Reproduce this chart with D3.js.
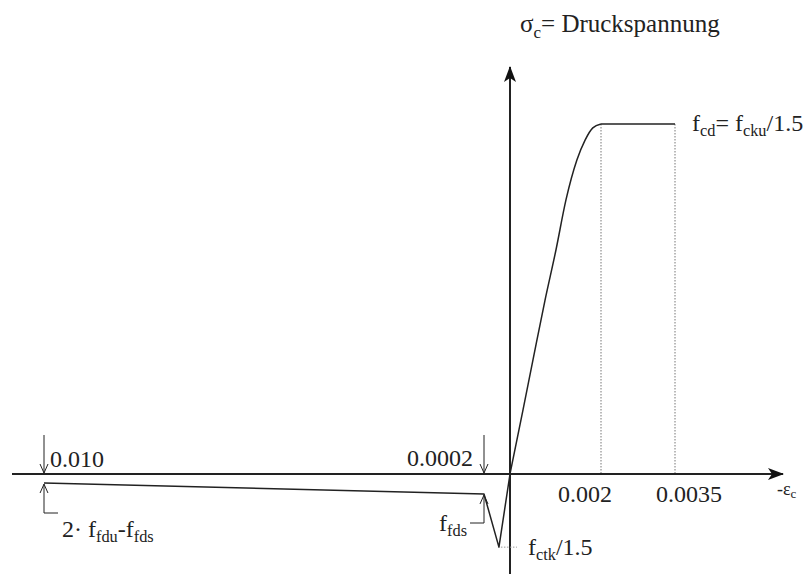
<!DOCTYPE html>
<html>
<head>
<meta charset="utf-8">
<script src="https://cdn.jsdelivr.net/npm/d3@7"></script>
<style>
  html, body { margin: 0; padding: 0; background: #fff; }
  svg text { font-family: "Liberation Serif", "Times New Roman", serif; fill: #222; }
</style>
</head>
<body>
<div id="chart"></div>
<script>
// strain (-eps_c) and stress (sigma_c / f_cd)
const strainTension = [-0.010, -0.0002, -0.000085, 0];
const stressTension = [-0.026, -0.057, -0.209, 0];
const strainCurve = [0, 0.000286, 0.000505, 0.00077, 0.00101, 0.00123, 0.00147, 0.00165, 0.00182, 0.002];
const stressCurve = [0, 0.183, 0.326, 0.497, 0.64, 0.783, 0.897, 0.954, 0.989, 1];
const strainPlateau = [0.002, 0.0035];
const stressPlateau = [1, 1];

const tickStrains = [0.002, 0.0035];
const tickLabels = ['0.002', '0.0035'];
const markStrains = [-0.010, -0.0002];
const markLabels = ['0.010', '0.0002'];

const width = 808, height = 574;

const svg = d3.select('#chart').append('svg')
    .attr('width', width)
    .attr('height', height);

// the sketch is not to scale: piecewise linear strain axis
const x = d3.scaleLinear()
    .domain([-0.010, -0.0002, 0, 0.002, 0.0035])
    .range([44, 484, 510, 601, 675]);
const y = d3.scaleLinear()
    .domain([0, 1])
    .range([474, 124]);

const defs = svg.append('defs');
defs.append('marker')
    .attr('id', 'head')
    .attr('viewBox', '0 0 16 12')
    .attr('refX', 15).attr('refY', 6)
    .attr('markerWidth', 16).attr('markerHeight', 12)
    .attr('markerUnits', 'userSpaceOnUse')
    .attr('orient', 'auto')
    .append('path')
    .attr('d', 'M0,0 L16,6 L0,12 L4,6 Z')
    .attr('fill', '#111');
defs.append('marker')
    .attr('id', 'vee')
    .attr('viewBox', '0 0 10 10')
    .attr('refX', 9).attr('refY', 5)
    .attr('markerWidth', 10).attr('markerHeight', 10)
    .attr('markerUnits', 'userSpaceOnUse')
    .attr('orient', 'auto')
    .append('path')
    .attr('d', 'M0,1 L9,5 L0,9')
    .attr('fill', 'none')
    .attr('stroke', '#222')
    .attr('stroke-width', 1);

// text with subscripts: parts = [[string, isSub], ...]
function richText(px, py, parts, size, anchor) {
    const t = svg.append('text')
        .attr('x', px).attr('y', py)
        .attr('font-size', size)
        .attr('text-anchor', anchor || 'start');
    let down = false;
    parts.forEach(([s, sub]) => {
        const ts = t.append('tspan').text(s);
        if (sub) {
            ts.attr('font-size', size * 0.68);
            if (!down) { ts.attr('dy', size * 0.22); down = true; }
        } else if (down) {
            ts.attr('dy', -size * 0.22); down = false;
        }
    });
    return t;
}

// dotted verticals under the plateau
svg.selectAll('.guide')
    .data(tickStrains)
    .enter().append('line')
    .attr('class', 'guide')
    .attr('x1', d => x(d)).attr('x2', d => x(d))
    .attr('y1', y(1)).attr('y2', y(0))
    .attr('stroke', '#777')
    .attr('stroke-width', 1)
    .attr('stroke-dasharray', '1.5,1.5');

// axes
svg.append('line')
    .attr('x1', 12).attr('x2', 783)
    .attr('y1', y(0)).attr('y2', y(0))
    .attr('stroke', '#222').attr('stroke-width', 2)
    .attr('marker-end', 'url(#head)');
svg.append('line')
    .attr('x1', x(0)).attr('x2', x(0))
    .attr('y1', height).attr('y2', 67)
    .attr('stroke', '#222').attr('stroke-width', 2)
    .attr('marker-end', 'url(#head)');

// stress-strain curve
const lineLin = d3.line().x(d => x(d[0])).y(d => y(d[1]));
const lineSmooth = d3.line().x(d => x(d[0])).y(d => y(d[1])).curve(d3.curveMonotoneX);

svg.append('path')
    .attr('d', lineLin(d3.zip(strainTension, stressTension)))
    .attr('fill', 'none').attr('stroke', '#222').attr('stroke-width', 1.5)
    .attr('stroke-linejoin', 'round');
svg.append('path')
    .attr('d', lineSmooth(d3.zip(strainCurve, stressCurve)))
    .attr('fill', 'none').attr('stroke', '#222').attr('stroke-width', 1.5);
svg.append('path')
    .attr('d', lineLin(d3.zip(strainPlateau, stressPlateau)))
    .attr('fill', 'none').attr('stroke', '#222').attr('stroke-width', 1.5);

// strain marks on the tension side: arrow down to the axis, arrow up to the line
const leaderY = [513, 523];
markStrains.forEach((s, i) => {
    const px = x(s);
    const pyLine = y(stressTension[i]);
    svg.append('line')
        .attr('x1', px).attr('x2', px)
        .attr('y1', 435).attr('y2', y(0) - 1)
        .attr('stroke', '#222').attr('stroke-width', 1)
        .attr('marker-end', 'url(#vee)');
    svg.append('path')
        .attr('d', i === 0
            ? `M${px + 14},${leaderY[i]} L${px},${leaderY[i]} L${px},${pyLine + 1}`
            : `M${px - 14},${leaderY[i]} L${px},${leaderY[i]} L${px},${pyLine + 1}`)
        .attr('fill', 'none')
        .attr('stroke', '#222').attr('stroke-width', 1)
        .attr('marker-end', 'url(#vee)');
});
svg.append('text')
    .attr('x', x(markStrains[0]) + 6).attr('y', 467)
    .attr('font-size', 24)
    .text(markLabels[0]);
svg.append('text')
    .attr('x', x(markStrains[1]) - 11).attr('y', 466)
    .attr('font-size', 24)
    .attr('text-anchor', 'end')
    .text(markLabels[1]);

// compression tick labels
svg.selectAll('.tick-label')
    .data(tickStrains)
    .enter().append('text')
    .attr('class', 'tick-label')
    .attr('x', (d, i) => x(d) + (i === 0 ? -16 : 14))
    .attr('y', 502)
    .attr('font-size', 24)
    .attr('text-anchor', 'middle')
    .text((d, i) => tickLabels[i]);

// f_ctk leader
const minStrain = strainTension[2], minStress = stressTension[2];
svg.append('line')
    .attr('x1', x(minStrain) + 2).attr('x2', x(minStrain) + 18)
    .attr('y1', y(minStress)).attr('y2', y(minStress))
    .attr('stroke', '#999').attr('stroke-width', 1)
    .attr('stroke-dasharray', '1.5,1.5');

// labels
richText(520, 32, [['σ', false], ['c', true], ['= Druckspannung', false]], 25);
richText(692, 131, [['f', false], ['cd', true], ['= f', false], ['cku', true], ['/1.5', false]], 24);
richText(528, 555, [['f', false], ['ctk', true], ['/1.5', false]], 24);
richText(467, 531, [['f', false], ['fds', true]], 24, 'end');
richText(62, 537, [['2· f', false], ['fdu', true], ['-f', false], ['fds', true]], 24);

svg.append('text')
    .attr('x', 777).attr('y', 495)
    .attr('font-family', 'Liberation Sans, Arial, sans-serif')
    .attr('font-size', 18)
    .call(t => {
        t.append('tspan').text('-ε');
        t.append('tspan').attr('font-size', 13).attr('dy', 3).text('c');
    });
</script>
</body>
</html>
